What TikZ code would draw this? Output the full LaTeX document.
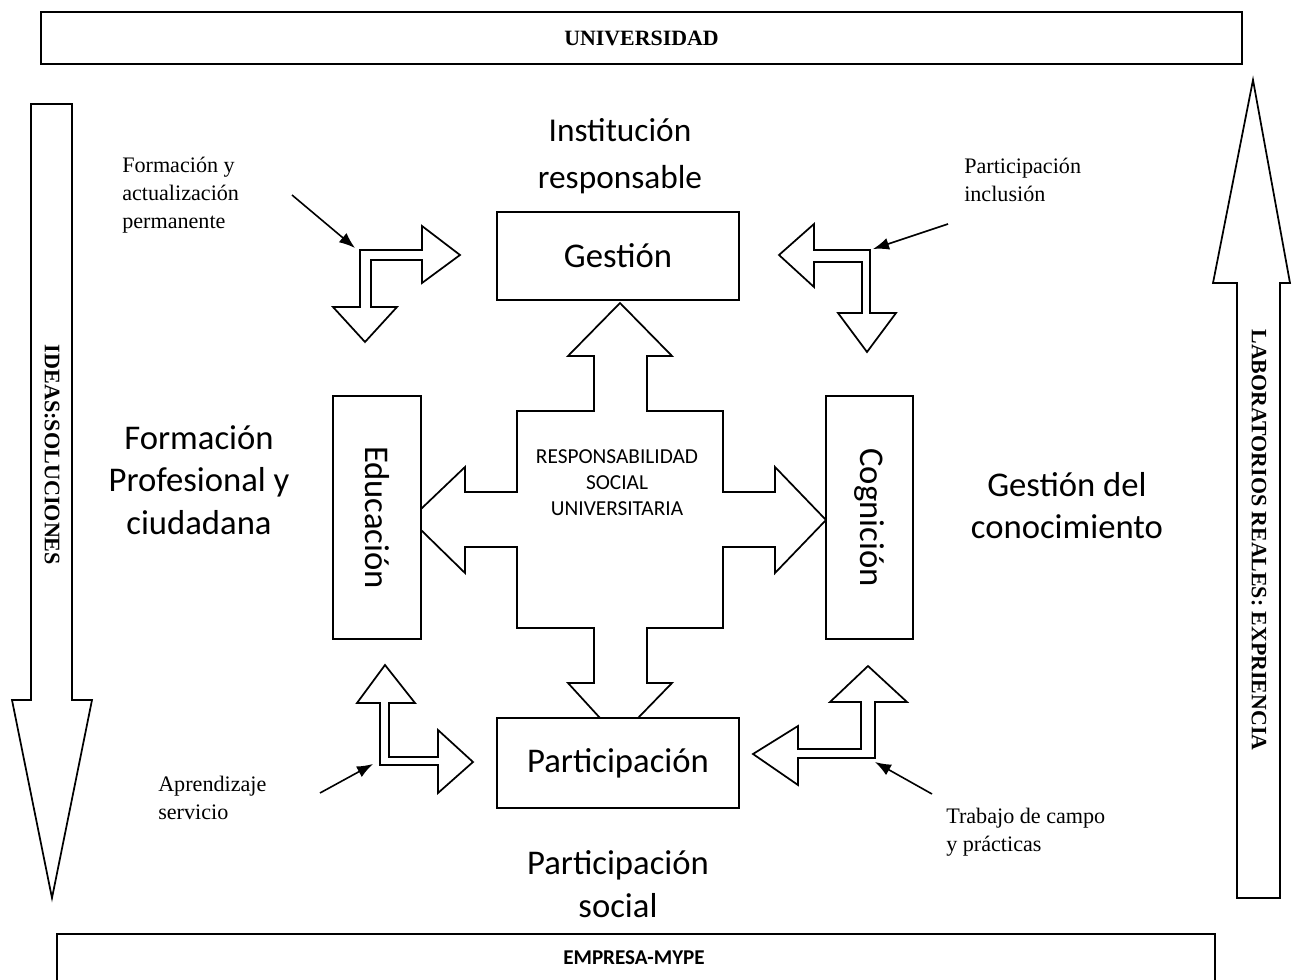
\documentclass[tikz,border=0pt]{standalone}
\usepackage{fontspec}
\setmainfont{Liberation Serif}
\newfontfamily\calibri{Carlito}
\usetikzlibrary{arrows.meta}
\begin{document}
\begin{tikzpicture}[x=0.75pt,y=-0.75pt,line join=miter,
  frame/.style={draw,line width=1.4pt,inner sep=0pt},
  outline/.style={draw,line width=1.3pt,fill=white},
  pointer/.style={-{Latex[length=12pt,width=9pt]},line width=1.2pt},
  big/.style={font=\calibri\fontsize{26}{34}\selectfont,align=center},
  note/.style={font=\fontsize{16.6}{21}\selectfont,align=left,anchor=north west,inner sep=0pt},
  sidetext/.style={font=\bfseries\fontsize{16.4}{18}\selectfont,rotate=-90}]
\useasboundingbox (0,0) rectangle (1292,980);

% top and bottom bands
\node[frame,minimum width=1201*0.75pt,minimum height=52*0.75pt,
      font=\bfseries\fontsize{16.4}{18}\selectfont] (univ) at (641.5,38) {UNIVERSIDAD};
\node[frame,minimum width=1158*0.75pt,minimum height=56*0.75pt] (empresa) at (636,962) {};
\node[font=\calibri\bfseries\fontsize{15.8}{18}\selectfont] (empresatxt) at (634,958) {EMPRESA-MYPE};

% side arrows
\draw[outline] (31,104) -- (72,104) -- (72,700) -- (92,700) -- (52,898) -- (12,700) -- (31,700) -- cycle;
\node[sidetext,font=\bfseries\fontsize{16.6}{18}\selectfont] (ideas) at (52,455) {IDEAS:SOLUCIONES};
\draw[outline] (1237,898) -- (1237,283) -- (1213,283) -- (1253,80) -- (1290,283) -- (1280,283) -- (1280,898) -- cycle;
\node[sidetext] (labs) at (1259,540) {LABORATORIOS REALES: EXPRIENCIA};

% central cross
\draw[outline] (620,303) -- (672,356) -- (647,356) -- (647,411) -- (723,411) -- (723,492)
  -- (775,492) -- (775,467) -- (826,520) -- (775,573) -- (775,547) -- (723,547) -- (723,628)
  -- (647,628) -- (647,683) -- (672,683) -- (638,718) -- (600,718) -- (568,683) -- (594,683)
  -- (594,628) -- (517,628) -- (517,547) -- (465,547) -- (465,573) -- (421,530) -- (421,509)
  -- (465,467) -- (465,492) -- (517,492) -- (517,411) -- (594,411) -- (594,356) -- (568,356) -- cycle;
\node[font=\calibri\fontsize{16}{19.5}\selectfont,align=center] (rsu) at (617,483)
  {RESPONSABILIDAD\\SOCIAL\\UNIVERSITARIA};

% four boxes
\node[frame,fill=white,minimum width=242*0.75pt,minimum height=88*0.75pt,big] (gestion) at (618,256) {Gestión};
\node[frame,fill=white,minimum width=242*0.75pt,minimum height=90*0.75pt,big] (particip) at (618,763) {Participación};
\node[frame,fill=white,minimum width=243*0.75pt,minimum height=88*0.75pt,big,rotate=-90] (educ) at (377,517.5) {Educación};
\node[frame,fill=white,minimum width=243*0.75pt,minimum height=87*0.75pt,big,rotate=-90] (cogn) at (869.5,517.5) {Cognición};

% labels around the boxes
\node[big,font=\calibri\fontsize{25}{35}\selectfont] (inst) at (620,156) {Institución\\responsable};
\node[big,font=\calibri\fontsize{26}{32}\selectfont] (form) at (199,480) {Formación\\Profesional y\\ciudadana};
\node[big,font=\calibri\fontsize{26}{31.5}\selectfont] (gdc) at (1067,506) {Gestión del\\conocimiento};
\node[big,font=\calibri\fontsize{26}{32}\selectfont] (psoc) at (618,884) {Participación\\social};

% elbow arrows
\draw[outline] (360,250) -- (422,250) -- (422,226) -- (460,255) -- (422,283) -- (422,260)
  -- (371,260) -- (371,307) -- (397,307) -- (365,342) -- (333,307) -- (360,307) -- cycle;
\draw[outline] (870,250) -- (814,250) -- (814,224) -- (779,255) -- (814,287) -- (814,262)
  -- (862,262) -- (862,313) -- (838,313) -- (867,352) -- (896,313) -- (870,313) -- cycle;
\draw[outline] (380,765) -- (380,703) -- (357,703) -- (385,665) -- (415,703) -- (389,703)
  -- (389,757) -- (438,757) -- (438,730) -- (473,762) -- (438,793) -- (438,765) -- cycle;
\draw[outline] (875,758) -- (875,702) -- (907,702) -- (868,666) -- (830,702) -- (861,702)
  -- (861,749) -- (798,749) -- (798,726) -- (753,754) -- (798,785) -- (798,758) -- cycle;

% notes and pointers
\node[note] (fya) at (122,157) {Formación y\\actualización\\permanente};
\node[note] (pin) at (964,158) {Participación\\inclusión};
\node[note] (apr) at (158,776) {Aprendizaje\\servicio};
\node[note] (tdc) at (946,808) {Trabajo de campo\\y prácticas};

\coordinate (p1s) at (292,195); \coordinate (p1e) at (355,248);
\coordinate (p2s) at (948,224); \coordinate (p2e) at (873,249);
\coordinate (p3s) at (320,793); \coordinate (p3e) at (373,764);
\coordinate (p4s) at (932,794); \coordinate (p4e) at (875,762);
\draw[pointer] (p1s) -- (p1e);
\draw[pointer] (p2s) -- (p2e);
\draw[pointer] (p3s) -- (p3e);
\draw[pointer] (p4s) -- (p4e);
\end{tikzpicture}
\end{document}
